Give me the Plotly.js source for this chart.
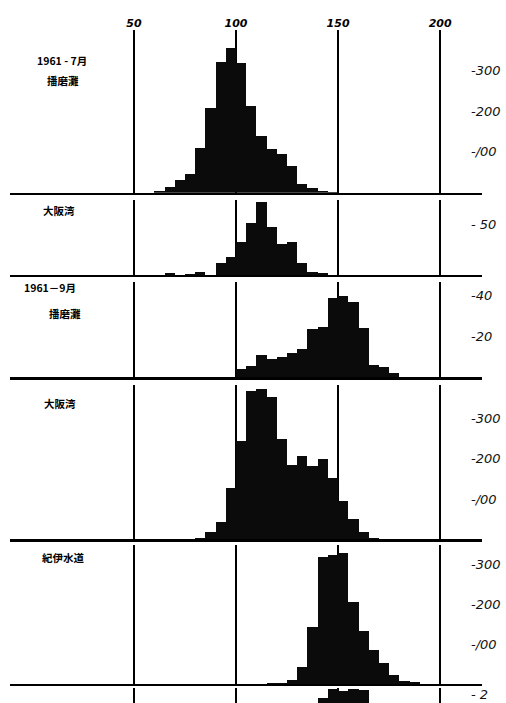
<!DOCTYPE html>
<html>
<head>
<meta charset="utf-8">
<script src="https://cdn.plot.ly/plotly-3.0.1.min.js"></script>
<style>html,body{margin:0;padding:0;background:#fff;}#chart{width:506px;height:703px;}</style>
</head>
<body>
<div id="chart"></div>
<script>
// Length classes (lower edge of each 5-unit class)
const bins = [60,65,70,75,80,85,90,95,100,105,110,115,120,125,130,135,140,145,150,155,160,165,170,175,180,185];

// 1961-7月 播磨灘
const julHarima = [3,15,30,46,110,208,319,353,318,213,139,108,94,65,22,11,3,1,0,0,0,0,0,0,0,0];
// 大阪湾 (July)
const julOsaka  = [0,2,0,1,3,0,12,18,33,51,72,47,31,33,12,3,2,0,0,0,0,0,0,0,0,0];
// 1961-9月 播磨灘
const sepHarima = [0,0,0,0,0,0,0,0,4,5.7,10.7,8.8,9.8,11.7,14,23.7,24.7,38.9,39.8,36.9,24,5.9,4.9,2.1,0,0];
// 大阪湾 (September)
const sepOsaka  = [0,0,0,0,2.5,19,44,128,244,370,373,353,250,185,208,183,199,152,95,50,18,3,1,0,0,0];
// 紀伊水道
const kii       = [0,0,0,0,0,0,0,0,1,0,1,3,3,9,42,143,317,322,327,205,133,85,53,22,7,4];
// bottom (cut-off) panel
const lastPanel = [0,0,0,0,0,0,0,0,0,0,0,0,0,0,0,0,1.8,2.28,2.2,2.28,2.25,0,0,0,0,0];

const xTicks = [50,100,150,200];
const xTickText = ['50','100','150','200'];

const panels = [
  {vals: julHarima, tv:[100,200,300], tt:['-/00','-200','-300'], label:['1961 - 7月','播磨灘']},
  {vals: julOsaka,  tv:[50], tt:['- 50'], label:['大阪湾']},
  {vals: sepHarima, tv:[20,40], tt:['-20','-40'], label:['1961－9月','播磨灘']},
  {vals: sepOsaka,  tv:[100,200,300], tt:['-/00','-200','-300'], label:['大阪湾']},
  {vals: kii,       tv:[100,200,300], tt:['-/00','-200','-300'], label:['紀伊水道']},
  {vals: lastPanel, tv:[2], tt:['- 2'], label:[]}
];

// layout geometry (pixel rows in a 703px tall figure)
const H = 703, W = 506;
const geom = [
  {top:30,  base:192.7, ymax:398},
  {top:200, base:275,   ymax:74},
  {top:282, base:377.3, ymax:46.5},
  {top:385, base:539.3, ymax:383.8},
  {top:545, base:684,   ymax:347.5},
  {top:688, base:703,   ymax:2.35, ymin:1.55}
];
const labelPos = [
  [[62,60],[63,80]],
  [[59,210]],
  [[50,287],[65,313]],
  [[60,403]],
  [[63,557]],
  []
];

const xDomain = [10/W, 482/W];
const xRange = [-10.67, 220.47];

const data = [];
const layout = {
  width: W, height: H,
  margin: {l:0, r:0, t:0, b:0},
  paper_bgcolor: '#fff', plot_bgcolor: 'rgba(0,0,0,0)',
  showlegend: false,
  bargap: 0,
  annotations: []
};

const tickFont = {family: 'DejaVu Sans', size: 13, color: '#111', style: 'italic'};

panels.forEach((p, i) => {
  const n = i === 0 ? '' : String(i+1);
  data.push({
    type: 'bar', x: bins, y: p.vals, width: 5, offset: 0,
    xaxis: 'x' + n, yaxis: 'y' + n,
    marker: {color: '#0b0b0b', line: {width: 0}},
    hoverinfo: 'skip'
  });
  const g = geom[i];
  layout['xaxis' + n] = {
    domain: xDomain, range: xRange, anchor: 'y' + n,
    tickvals: xTicks, showticklabels: false, ticks: '',
    showgrid: true, gridcolor: '#000', gridwidth: 1.6,
    zeroline: false,
    showline: i < 5, linecolor: '#000', linewidth: 2.2,
    fixedrange: true
  };
  layout['yaxis' + n] = {
    domain: [1 - g.base/H, 1 - g.top/H],
    range: [g.ymin || 0, g.ymax],
    anchor: 'free', position: 470/W, side: 'right',
    tickvals: p.tv, ticktext: p.tt, ticks: '',
    showgrid: false, zeroline: false, showline: false,
    tickfont: tickFont, fixedrange: true
  };
  p.label.forEach((t, k) => {
    const pos = labelPos[i][k];
    layout.annotations.push({
      text: t, xref: 'paper', yref: 'paper',
      x: pos[0]/W, y: 1 - pos[1]/H, xanchor: 'center', yanchor: 'middle',
      showarrow: false,
      font: {family: 'Noto Sans CJK JP', size: 10.5, color: '#000', weight: 'bold'}
    });
  });
});

// top scale labels
data.push({type: 'scatter', x: [], y: [], xaxis: 'x7', yaxis: 'y', hoverinfo: 'skip'});
layout.xaxis7 = {
  overlaying: 'x', anchor: 'y', side: 'top',
  domain: xDomain, range: xRange,
  tickvals: xTicks, ticktext: xTickText, ticks: '',
  showgrid: false, zeroline: false, showline: false,
  tickfont: {family: 'DejaVu Sans', size: 11, color: '#000', style: 'italic', weight: 'bold'},
  fixedrange: true
};

Plotly.newPlot('chart', data, layout, {staticPlot: true, displayModeBar: false});
</script>
</body>
</html>
